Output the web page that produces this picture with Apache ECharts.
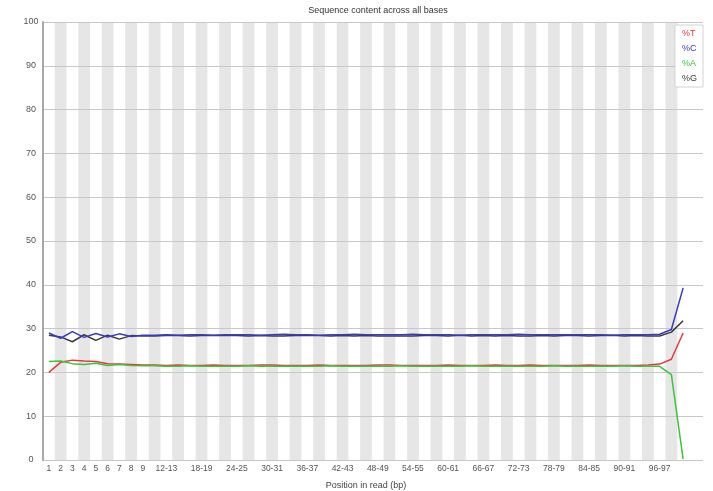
<!DOCTYPE html>
<html>
<head>
<meta charset="utf-8">
<script src="https://cdn.jsdelivr.net/npm/echarts@6/dist/echarts.min.js"></script>
<style>
html,body{margin:0;padding:0;background:#fff;}
#chart{width:713px;height:491px;}
</style>
</head>
<body>
<div id="chart"></div>
<script>
var categories = ['1','2','3','4','5','6','7','8','9',
  '10-11','12-13','14-15','16-17','18-19','20-21','22-23','24-25','26-27','28-29',
  '30-31','32-33','34-35','36-37','38-39','40-41','42-43','44-45','46-47','48-49',
  '50-51','52-53','54-55','56-57','58-59','60-61','62-63','64-65','66-67','68-69',
  '70-71','72-73','74-75','76-77','78-79','80-81','82-83','84-85','86-87','88-89',
  '90-91','92-93','94-95','96-97','98-99','100-101'];

var tickLabels = ['1','2','3','4','5','6','7','8','9','12-13','18-19','24-25','30-31',
  '36-37','42-43','48-49','54-55','60-61','66-67','72-73','78-79','84-85','90-91','96-97'];

var yTicks = [0,10,20,30,40,50,60,70,80,90,100];

var seriesT = [20.0, 22.3, 22.8, 22.6, 22.5, 22.0, 21.9, 21.8, 21.7,
  21.7, 21.6, 21.7, 21.6, 21.6, 21.7, 21.6, 21.6, 21.6, 21.7,
  21.7, 21.6, 21.6, 21.6, 21.7, 21.6, 21.6, 21.6, 21.6, 21.7,
  21.7, 21.6, 21.6, 21.6, 21.6, 21.7, 21.6, 21.6, 21.6, 21.7,
  21.6, 21.6, 21.7, 21.6, 21.6, 21.6, 21.6, 21.7, 21.6, 21.6,
  21.6, 21.6, 21.7, 21.9, 23.0, 29.0];

var seriesC = [29.0, 27.8, 29.3, 28.0, 28.9, 28.1, 28.8, 28.2, 28.5,
  28.5, 28.6, 28.5, 28.6, 28.6, 28.5, 28.6, 28.6, 28.6, 28.5,
  28.6, 28.7, 28.6, 28.6, 28.5, 28.6, 28.6, 28.7, 28.6, 28.6,
  28.6, 28.6, 28.7, 28.6, 28.6, 28.6, 28.5, 28.6, 28.6, 28.6,
  28.6, 28.7, 28.6, 28.6, 28.6, 28.6, 28.6, 28.6, 28.6, 28.5,
  28.6, 28.6, 28.6, 28.7, 29.8, 39.3];

var seriesA = [22.5, 22.6, 22.0, 21.8, 22.1, 21.6, 21.8, 21.6, 21.5,
  21.5, 21.4, 21.4, 21.5, 21.4, 21.4, 21.4, 21.4, 21.5, 21.4,
  21.4, 21.4, 21.4, 21.4, 21.4, 21.5, 21.4, 21.4, 21.4, 21.4,
  21.4, 21.5, 21.4, 21.4, 21.4, 21.4, 21.4, 21.5, 21.4, 21.4,
  21.4, 21.4, 21.4, 21.4, 21.5, 21.4, 21.4, 21.4, 21.4, 21.4,
  21.5, 21.4, 21.4, 21.4, 19.5, 0.2];

var seriesG = [28.5, 28.1, 27.0, 28.6, 27.3, 28.5, 27.6, 28.4, 28.3,
  28.3, 28.4, 28.4, 28.3, 28.4, 28.4, 28.4, 28.4, 28.3, 28.4,
  28.3, 28.3, 28.4, 28.4, 28.4, 28.3, 28.4, 28.3, 28.4, 28.3,
  28.3, 28.3, 28.3, 28.4, 28.4, 28.3, 28.5, 28.3, 28.4, 28.3,
  28.4, 28.3, 28.3, 28.4, 28.3, 28.4, 28.4, 28.3, 28.4, 28.5,
  28.3, 28.4, 28.3, 28.3, 29.2, 31.8];

var colT = '#e03b3b', colC = '#3a3ac4', colA = '#3cc43c', colG = '#3c3c3c';
var font = 'Arial, "Liberation Sans", sans-serif';

var chart = echarts.init(document.getElementById('chart'));
chart.setOption({
  animation: false,
  backgroundColor: '#ffffff',
  title: {
    text: 'Sequence content across all bases',
    left: 373, top: 1, textAlign: 'center',
    textStyle: {fontSize: 9, fontWeight: 'normal', color: '#333', fontFamily: font}
  },
  legend: {
    orient: 'vertical', right: 10, top: 25,
    icon: 'none', itemWidth: 0, itemHeight: 8, itemGap: 6,
    backgroundColor: '#ffffff', borderColor: '#d4d4d4', borderWidth: 1,
    padding: [4, 6, 4, 2],
    selectedMode: false,
    textStyle: {fontSize: 9, fontFamily: font},
    data: [
      {name: '%T', textStyle: {color: colT}},
      {name: '%C', textStyle: {color: colC}},
      {name: '%A', textStyle: {color: colA}},
      {name: '%G', textStyle: {color: colG}}
    ]
  },
  grid: [
    {left: 43, right: 10, top: 22, bottom: 31, containLabel: false, outerBoundsMode: 'none'},
    {left: 43, width: 646, top: 22, bottom: 31, containLabel: false, outerBoundsMode: 'none'}
  ],
  xAxis: [
    {gridIndex: 0, type: 'value', show: false, min: 0, max: 1},
    {
      gridIndex: 1, type: 'category', data: categories, boundaryGap: true,
      axisLine: {show: false}, axisTick: {show: false},
      axisLabel: {
        fontSize: 8.5, color: '#555', fontFamily: font, margin: 4,
        interval: function (i, v) { return tickLabels.indexOf(v) >= 0; }
      },
      splitLine: {show: false},
      splitArea: {show: true, interval: 0, areaStyle: {color: ['rgba(255,255,255,0)', '#e6e6e6']}},
      name: 'Position in read (bp)', nameLocation: 'middle', nameGap: 21,
      nameTextStyle: {fontSize: 9, color: '#444', fontFamily: font}
    }
  ],
  yAxis: [
    {
      gridIndex: 0, type: 'value', min: 0, max: 100, interval: 10, z: 1,
      axisLine: {show: true, lineStyle: {color: '#a8a8a8', width: 2}},
      axisTick: {show: false},
      axisLabel: {
        fontSize: 9, color: '#555', fontFamily: font, margin: 12, align: 'center',
        formatter: function (v) { return yTicks.indexOf(v) >= 0 ? String(v) : ''; }
      },
      splitLine: {show: true, lineStyle: {color: '#c8c8c8', width: 1}}
    },
    {gridIndex: 1, type: 'value', min: 0, max: 100, show: false}
  ],
  series: [
    {name: '%G', type: 'line', xAxisIndex: 1, yAxisIndex: 1, data: seriesG, showSymbol: false,
      lineStyle: {color: colG, width: 1.5}, itemStyle: {color: colG}},
    {name: '%T', type: 'line', xAxisIndex: 1, yAxisIndex: 1, data: seriesT, showSymbol: false,
      lineStyle: {color: colT, width: 1.5}, itemStyle: {color: colT}},
    {name: '%A', type: 'line', xAxisIndex: 1, yAxisIndex: 1, data: seriesA, showSymbol: false,
      lineStyle: {color: colA, width: 1.5}, itemStyle: {color: colA}},
    {name: '%C', type: 'line', xAxisIndex: 1, yAxisIndex: 1, data: seriesC, showSymbol: false,
      lineStyle: {color: colC, width: 1.5}, itemStyle: {color: colC}}
  ]
});
</script>
</body>
</html>
